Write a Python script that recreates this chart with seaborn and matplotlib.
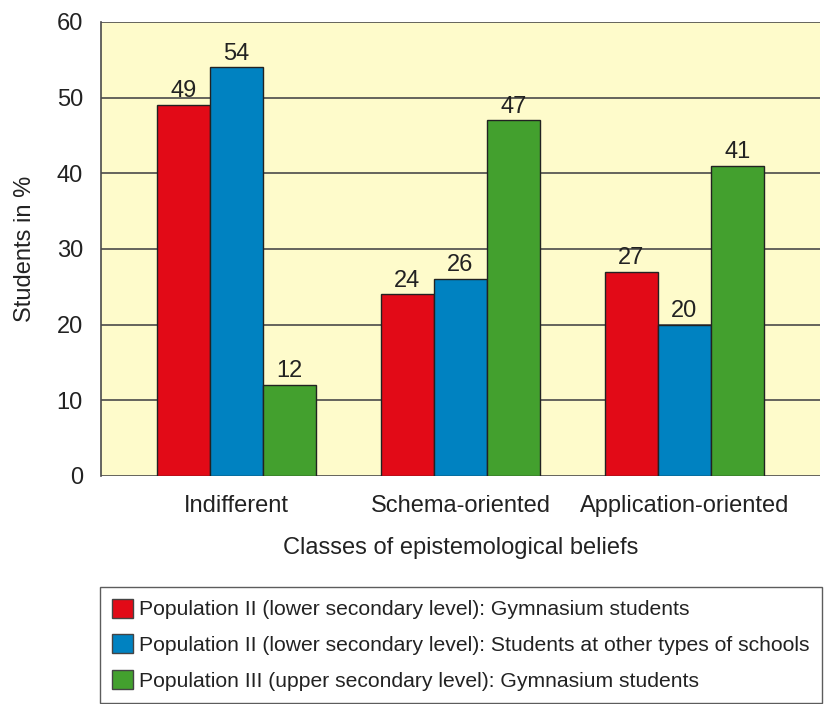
import seaborn as sns
import matplotlib.pyplot as plt
import pandas as pd
from matplotlib.patches import Patch

# Data
classes = ['Indifferent', 'Schema-oriented', 'Application-oriented']
groups = [
    'Population II (lower secondary level): Gymnasium students',
    'Population II (lower secondary level): Students at other types of schools',
    'Population III (upper secondary level): Gymnasium students',
]
pop2_gym = [49, 24, 27]
pop2_other = [54, 26, 20]
pop3_gym = [12, 47, 41]
colors = ['#E20A17', '#0082C1', '#43A02E']

rows = []
for g, vals in zip(groups, [pop2_gym, pop2_other, pop3_gym]):
    for c, v in zip(classes, vals):
        rows.append({'Class': c, 'Group': g, 'Value': v})
data = pd.DataFrame(rows)

sns.set_style('white')
plt.rcParams['font.family'] = ['Liberation Sans', 'DejaVu Sans']
fs = 17

fig = plt.figure(figsize=(8.26, 7.04), dpi=100)
ax = fig.add_axes([0.1223, 0.3239, 0.8704, 0.6449])
ax.set_facecolor('#FEFBCB')

# gridlines
for y in range(0, 61, 10):
    ax.axhline(y, color='#4a4a4a', lw=1.2, zorder=0)

sns.barplot(data=data, x='Class', y='Value', hue='Group', palette=colors,
            width=0.71, edgecolor='#222222', linewidth=1.0, saturation=1,
            legend=False, ax=ax, zorder=2)

for cont in ax.containers:
    ax.bar_label(cont, fmt='%d', padding=2, fontsize=fs, color='#222222')

ax.set_ylim(0, 60)
ax.set_xlim(-0.605, 2.605)
ax.set_yticks(range(0, 61, 10))
ax.tick_params(axis='y', length=10, width=1.2, color='#4a4a4a', labelsize=fs, pad=3,
               labelcolor='#222222')
ax.tick_params(axis='x', length=0, labelsize=fs, pad=14, labelcolor='#222222')
for s in ['top', 'right', 'bottom']:
    ax.spines[s].set_visible(False)
ax.spines['left'].set_color('#4a4a4a')
ax.spines['left'].set_linewidth(1.2)

ax.set_xlabel('Classes of epistemological beliefs', fontsize=fs, labelpad=14, color='#222222')
ax.set_ylabel('Students in %', fontsize=fs, labelpad=15, color='#222222')

handles = [Patch(facecolor=c, edgecolor='#444444', lw=1.0) for c in colors]
leg = fig.legend(handles, groups, loc='upper left', bbox_to_anchor=(0.121, 0.0, 0.874, 0.1662),
                 mode='expand', frameon=True, fancybox=False,
                 handlelength=1.0, handleheight=1.0, handletextpad=0.3,
                 labelspacing=0.72, borderpad=0.55, borderaxespad=0,
                 prop={'family': ['Liberation Sans', 'DejaVu Sans'], 'size': 15.2})
for t in leg.get_texts():
    t.set_color('#222222')
leg.get_frame().set_edgecolor('#333333')
leg.get_frame().set_linewidth(1.0)

fig.savefig('out.png', dpi=100)
